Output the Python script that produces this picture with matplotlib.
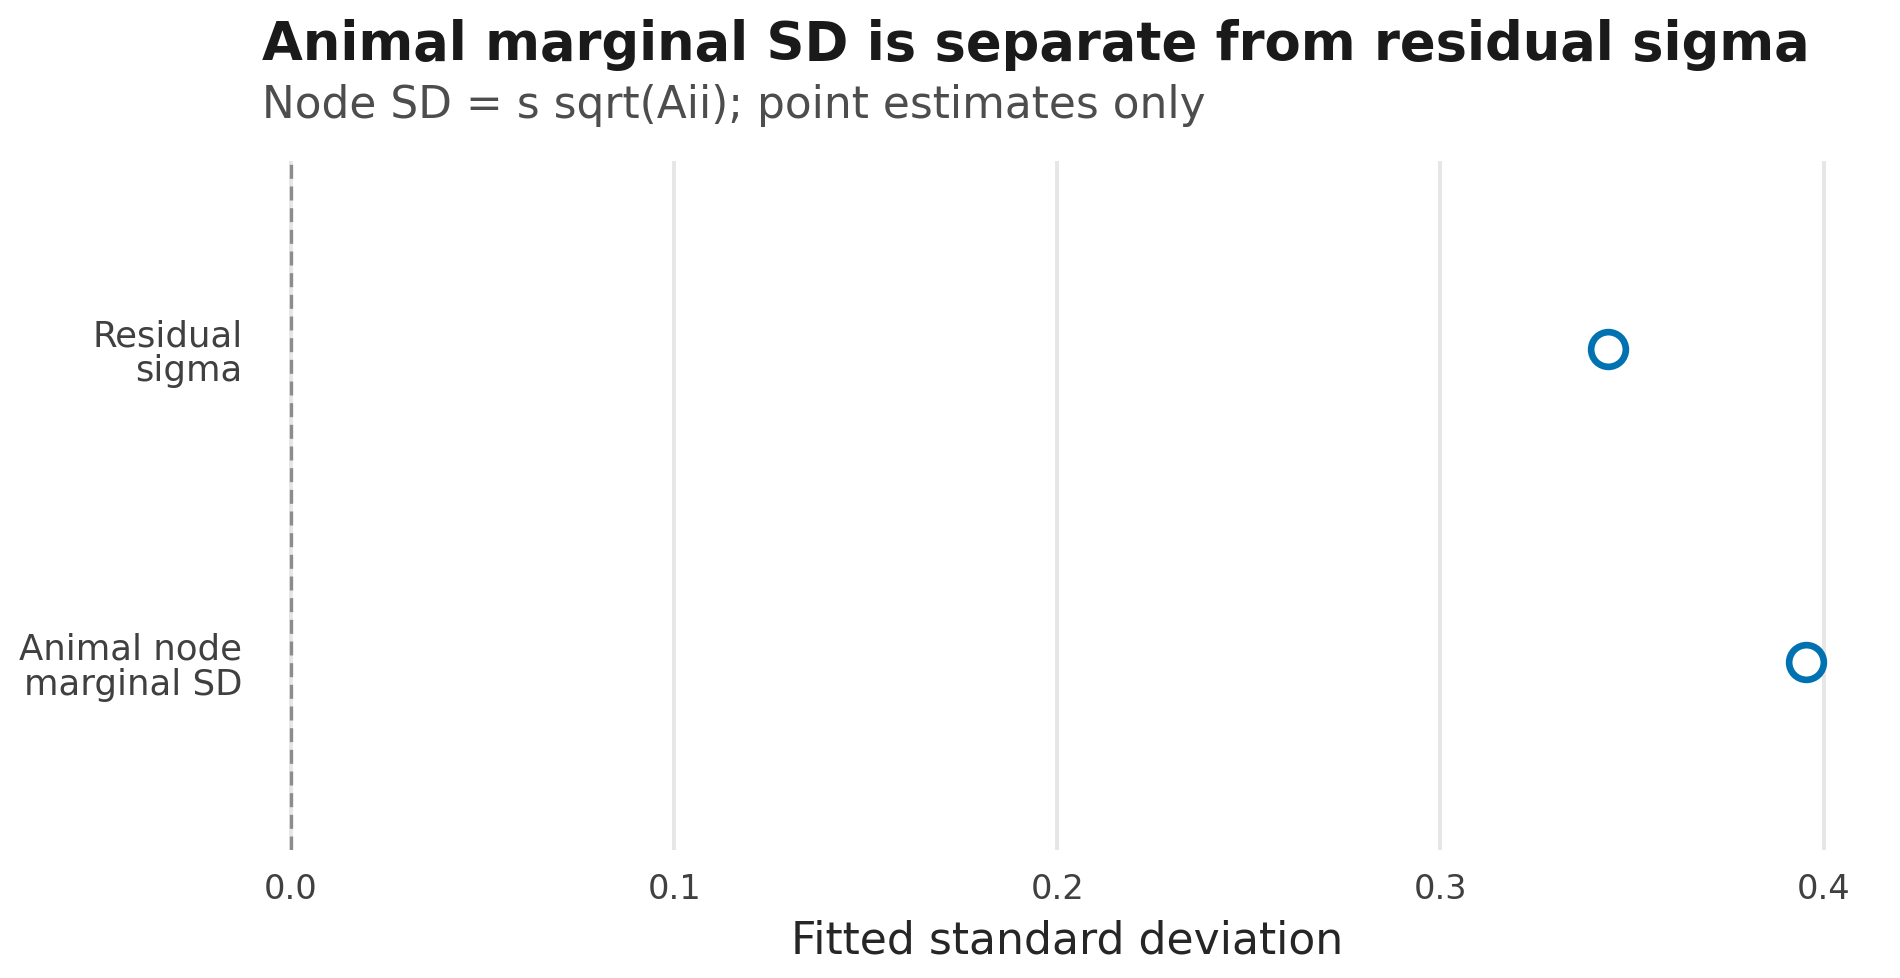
import numpy as np
import matplotlib
matplotlib.use("Agg")
import matplotlib.pyplot as plt

plt.rcParams["font.family"] = ["DejaVu Sans"]

# fitted SD point estimates
labels = ["Animal node\nmarginal SD", "Residual\nsigma"]
estimates = [0.3953, 0.3437]
xticks = [0.0, 0.1, 0.2, 0.3, 0.4]

title = "Animal marginal SD is separate from residual sigma"
subtitle = "Node SD = s sqrt(Aii); point estimates only"


def sd_plot():
    fig = plt.figure(figsize=(9.5, 4.895), dpi=200)
    ax = fig.add_axes([0.133, 0.131, 0.857, 0.704])

    ypos = np.arange(len(labels))
    ax.axvline(0, color="#8c8c8c", linestyle=(0, (4.2, 2.3)), linewidth=1.2, zorder=2)
    ax.plot(estimates, ypos, linestyle="none", marker="o", markersize=12.5,
            markerfacecolor="white", markeredgecolor="#0072B2",
            markeredgewidth=2.4, zorder=3)

    ax.set_xlim(-0.01, 0.415)
    ax.set_ylim(-0.6, 1.6)
    ax.set_xticks(xticks)
    ax.set_xticklabels([f"{t:.1f}" for t in xticks])
    ax.set_yticks(ypos)
    ax.set_yticklabels(labels, linespacing=1.05)
    ax.tick_params(axis="x", length=0, pad=8, labelsize=12.1, labelcolor="#404040")
    ax.tick_params(axis="y", length=0, pad=3.7, labelsize=12.8, labelcolor="#404040")
    ax.grid(axis="x", color="#e6e6e6", linewidth=1.4, zorder=0)
    ax.grid(axis="y", visible=False)
    ax.set_axisbelow(True)
    for s in ax.spines.values():
        s.set_visible(False)

    ax.set_xlabel("Fitted standard deviation", fontsize=15.9, color="#262626", labelpad=5)

    fig.text(0.138, 0.981, title, fontsize=19, fontweight="bold",
             color="#1a1a1a", ha="left", va="top")
    fig.text(0.138, 0.914, subtitle, fontsize=15.8, color="#4d4d4d",
             ha="left", va="top")

    fig.savefig("out.png", dpi=200, facecolor="white")


if __name__ == "__main__":
    sd_plot()
